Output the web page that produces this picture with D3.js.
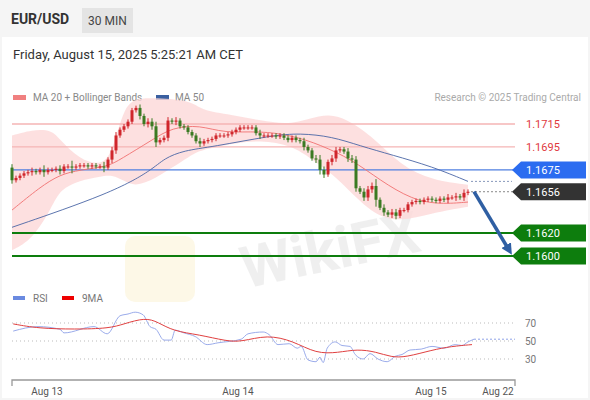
<!DOCTYPE html>
<html><head><meta charset="utf-8">
<script src="https://cdn.jsdelivr.net/npm/d3@7"></script>
<style>
body{margin:0;background:#fff;font-family:Roboto,"Liberation Sans",Arial,sans-serif;}
</style></head>
<body><svg id="chart" width="590" height="400"></svg>
<script>
// 30 min closes, EUR/USD
const firstOpen = 1.1677;
const closes = [
  1.1666,1.1668,1.1670,1.1672,1.1673,1.1674,1.1673,1.1675,1.1673,1.1675,
  1.1675,1.1676,1.1674,1.1678,1.1678,1.1677,1.1678,1.1679,1.1679,1.1678,
  1.1679,1.1678,1.1678,1.1677,1.1684,1.1692,1.1705,1.1710,1.1713,1.1717,
  1.1727,1.1729,1.1722,1.1715,1.1717,1.1713,1.1699,1.1701,1.1703,1.1718,
  1.1717,1.1718,1.1713,1.1712,1.1708,1.1705,1.1700,1.1698,1.1700,1.1701,
  1.1702,1.1705,1.1705,1.1705,1.1706,1.1708,1.1710,1.1712,1.1712,1.1712,
  1.1712,1.1707,1.1705,1.1705,1.1705,1.1705,1.1704,1.1705,1.1703,1.1701,
  1.1703,1.1701,1.1700,1.1695,1.1692,1.1685,1.1684,1.1675,1.1671,1.1682,
  1.1685,1.1692,1.1693,1.1691,1.1685,1.1684,1.1659,1.1656,1.1651,1.1658,
  1.1661,1.1649,1.1642,1.1638,1.1636,1.1638,1.1635,1.1640,1.1640,1.1645,
  1.1647,1.1648,1.1647,1.1649,1.1650,1.1649,1.1648,1.1650,1.1649,1.1651,
  1.1651,1.1652,1.1651,1.1655,1.1656
];
// wick length in pips beyond the body
const wicks = [
  3,2,2,2,2,3,2,2,4,2, 2,2,3,2,2,5,2,2,2,2, 2,2,2,4,2,3,3,2,2,2,
  2,2,3,2,3,3,4,2,2,3, 2,3,2,2,2,2,2,3,2,2, 2,2,2,2,2,2,2,2,2,2,
  2,2,3,2,2,2,2,2,2,2, 2,2,2,3,2,2,3,4,3,2, 3,3,2,2,3,3,3,2,3,3,
  3,6,2,3,2,3,3,2,2,2, 2,2,2,2,2,2,2,2,2,3, 2,3,2,3,2
];
const ma50 = [[0,1.1625],[25,1.1655],[35,1.1675],[38,1.1685],[43,1.1692],[50,1.1695],[65,1.1705],[72,1.1707],[80,1.1704],[87,1.1696],[95,1.1688],[105,1.1678],[114,1.1665]];
const ma20 = [[0,1.1640],[7,1.1660],[12,1.1671],[17,1.1675],[24,1.1678],[27,1.1684],[35,1.1701],[40,1.1712],[47,1.1714],[53,1.1707],[62,1.1709],[70,1.1705],[77,1.1697],[85,1.1684],[92,1.1666],[100,1.1649],[107,1.1645],[114,1.1647]];
const bandUpper = [[0,1.1705],[5,1.1710],[10,1.1710],[12,1.1701],[17,1.1684],[22,1.1679],[25,1.1688],[28,1.1732],[32,1.1739],[45,1.1736],[47,1.1727],[55,1.1723],[62,1.1718],[70,1.1714],[77,1.1723],[82,1.1723],[90,1.1705],[97,1.1679],[105,1.1666],[114,1.1662]];
const bandLower = [[0,1.1605],[5,1.1614],[8,1.1627],[12,1.1658],[17,1.1666],[25,1.1671],[30,1.1662],[32,1.1658],[37,1.1675],[47,1.1692],[55,1.1698],[62,1.1701],[70,1.1697],[77,1.1679],[82,1.1666],[90,1.1636],[95,1.1627],[102,1.1636],[110,1.1640],[114,1.1643]];
const rsi = [[0.3,61],[6.5,66],[12,63],[13,59],[20.5,66],[23.8,58],[27,78],[29,80],[30.8,82],[32.8,79],[34.5,66],[36,63],[38,51],[39.8,51],[40.8,62],[43,59],[45.8,55],[48.8,46],[51.5,48],[57.3,52],[59,58],[62.8,60],[64.3,57],[66.5,46],[69.3,47],[71.3,42],[72.3,44],[74,29],[76,27],[77,32],[77.8,26],[78.8,42],[80.8,49],[82.5,45],[84.5,44],[85.8,35],[87.8,30],[89.5,36],[91.5,30],[93.8,27],[95.8,33],[97.5,35],[99.5,40],[102.3,41],[105,44],[108,42],[110.8,46],[112.5,45],[114,49],[115.5,52]];
const rsiMa = [[0.3,69],[6.5,64],[15.8,63],[24.3,64],[28,69],[33.3,76],[36.5,71],[40.3,61],[46.8,57],[53.5,50],[57.3,49],[63.8,57],[70.3,50],[76,36],[81.5,37],[86.3,41],[91,38],[94.8,32],[98.5,32],[105,40],[109.8,44],[115,46]];
const levels = [
  {v:1.1715, kind:"text", color:"#e0393e", line:"#f5b5b5"},
  {v:1.1695, kind:"text", color:"#e0393e", line:"#f5b5b5"},
  {v:1.1675, kind:"tag", color:"#2b6cf0", line:"#4f7fe0"},
  {v:1.1620, kind:"tag", color:"#0d7d0d", line:"#0d7d0d"},
  {v:1.1600, kind:"tag", color:"#0d7d0d", line:"#0d7d0d"}
];
const lastPrice = 1.1656;
const rsiTicks = [70, 50, 30];
const dateTicks = [[8.75,"Aug 13"],[56.5,"Aug 14"],[104.75,"Aug 15"],[121.5,"Aug 22"]];

const svg = d3.select("#chart");
const x = d3.scaleLinear().domain([0, 114]).range([12, 468]);
const y = d3.scaleLinear().domain([1.1600, 1.1715]).range([256, 124]);
const yr = d3.scaleLinear().domain([30, 70]).range([359, 323]);

// header
svg.append("rect").attr("width", 590).attr("height", 400).attr("fill", "#f5f5f5");
svg.append("rect").attr("x", 2).attr("y", 37).attr("width", 586).attr("height", 361).attr("fill", "#fff");
svg.append("text").attr("x", 11).attr("y", 24).attr("font-size", 14).attr("font-weight", "bold").attr("fill", "#333").text("EUR/USD");
svg.append("rect").attr("x", 82).attr("y", 8).attr("width", 51).attr("height", 25).attr("fill", "#e4e4e4");
svg.append("text").attr("x", 107.5).attr("y", 25).attr("text-anchor", "middle").attr("font-size", 12).attr("fill", "#444").text("30 MIN");
svg.append("text").attr("x", 13).attr("y", 59).attr("font-size", 13).attr("fill", "#333").text("Friday, August 15, 2025 5:25:21 AM CET");

// legend
svg.append("rect").attr("x", 13).attr("y", 95).attr("width", 13).attr("height", 5).attr("fill", "#f08080");
svg.append("text").attr("x", 33).attr("y", 101).attr("font-size", 10).attr("fill", "#888").text("MA 20 + Bollinger Bands");
svg.append("rect").attr("x", 156).attr("y", 95).attr("width", 13).attr("height", 5).attr("fill", "#3a5fa0");
svg.append("text").attr("x", 175).attr("y", 101).attr("font-size", 10).attr("fill", "#888").text("MA 50");
svg.append("text").attr("x", 581).attr("y", 101).attr("text-anchor", "end").attr("font-size", 10).attr("fill", "#aaa").text("Research \u00a9 2025 Trading Central");

// watermark
svg.append("text").attr("x", 330).attr("y", 270).attr("text-anchor", "middle").attr("font-size", 58).attr("font-weight", "bold")
  .attr("fill", "#000").attr("opacity", 0.06).attr("transform", "rotate(-12,330,250)").text("WikiFX");
svg.append("rect").attr("x", 125).attr("y", 236).attr("width", 70).attr("height", 66).attr("rx", 10).attr("fill", "#f0d060").attr("opacity", 0.15);

// bollinger band area
const lowerAt = d3.scaleLinear().domain(bandLower.map(b => b[0])).range(bandLower.map(b => b[1]));
const bandData = bandUpper.map(d => ({i: d[0], hi: d[1], lo: lowerAt(d[0])}));
svg.append("path").datum(bandData)
  .attr("d", d3.area().x(d => x(d.i)).y0(d => y(d.lo)).y1(d => y(d.hi)).curve(d3.curveBasis))
  .attr("fill", "#fcd8d8").attr("opacity", 0.8);

// levels
levels.forEach(l => {
  const yy = y(l.v);
  const thick = l.color === "#0d7d0d";
  svg.append("line").attr("x1", 12).attr("x2", thick ? 586 : 515).attr("y1", yy).attr("y2", yy)
    .attr("stroke", l.line).attr("stroke-width", thick ? 2 : 1.3);
  if (l.kind === "text") {
    svg.append("text").attr("x", 526).attr("y", yy + 4).attr("font-size", 11).attr("fill", l.color).text(l.v.toFixed(4));
  }
});

function tag(v, color) {
  const yy = y(v);
  svg.append("path").attr("d", `M512,${yy} L521,${yy - 8.5} L586,${yy - 8.5} L586,${yy + 8.5} L521,${yy + 8.5} Z`).attr("fill", color);
  svg.append("text").attr("x", 526).attr("y", yy + 4).attr("font-size", 11).attr("fill", "#fff").text(v.toFixed(4));
}
levels.filter(l => l.kind === "tag").forEach(l => tag(l.v, l.color));
tag(lastPrice, "#333");

// dotted leaders
svg.append("line").attr("x1", x(114) + 3).attr("x2", 512).attr("y1", y(ma50[ma50.length - 1][1])).attr("y2", y(ma50[ma50.length - 1][1]))
  .attr("stroke", "#8899bb").attr("stroke-dasharray", "2,2");
svg.append("line").attr("x1", x(114) + 3).attr("x2", 512).attr("y1", y(lastPrice)).attr("y2", y(lastPrice))
  .attr("stroke", "#888").attr("stroke-dasharray", "2,2");

// moving averages
const ln = d3.line().x(d => x(d[0])).y(d => y(d[1])).curve(d3.curveBasis);
svg.append("path").datum(ma20).attr("d", ln).attr("fill", "none").attr("stroke", "#f07070").attr("stroke-width", 0.9);
svg.append("path").datum(ma50).attr("d", ln).attr("fill", "none").attr("stroke", "#4a65a5").attr("stroke-width", 0.9);

// candles
const candles = closes.map((c, i) => {
  const o = i === 0 ? firstOpen : closes[i - 1];
  const w = wicks[i] * 0.0001;
  return {i, o, c, h: Math.max(o, c) + w, l: Math.min(o, c) - w};
});
const g = svg.append("g");
candles.forEach(d => {
  const col = d.c >= d.o ? "#d0262c" : "#3b7a22";
  g.append("line").attr("x1", x(d.i)).attr("x2", x(d.i)).attr("y1", y(d.h)).attr("y2", y(d.l)).attr("stroke", col).attr("stroke-width", 1);
  const top = y(Math.max(d.o, d.c)), bot = y(Math.min(d.o, d.c));
  g.append("rect").attr("x", x(d.i) - 1.5).attr("y", top).attr("width", 3).attr("height", Math.max(1, bot - top)).attr("fill", col);
});

// forecast arrow
svg.append("defs").append("marker").attr("id", "ah").attr("viewBox", "0 0 10 10").attr("refX", 5).attr("refY", 5)
  .attr("markerWidth", 3.2).attr("markerHeight", 3.2).attr("orient", "auto")
  .append("path").attr("d", "M0,0 L10,5 L0,10 Z").attr("fill", "#2f5fa3");
svg.append("line").attr("x1", x(114) + 6).attr("y1", y(lastPrice)).attr("x2", 509).attr("y2", 250)
  .attr("stroke", "#2f5fa3").attr("stroke-width", 3.5).attr("marker-end", "url(#ah)");

// RSI panel
svg.append("rect").attr("x", 13).attr("y", 296).attr("width", 12).attr("height", 4).attr("fill", "#6a8ae0");
svg.append("text").attr("x", 33).attr("y", 302).attr("font-size", 10).attr("fill", "#777").text("RSI");
svg.append("rect").attr("x", 62).attr("y", 296).attr("width", 12).attr("height", 4).attr("fill", "#e00");
svg.append("text").attr("x", 82).attr("y", 302).attr("font-size", 10).attr("fill", "#777").text("9MA");
rsiTicks.forEach(t => {
  svg.append("line").attr("x1", 12).attr("x2", 515).attr("y1", yr(t)).attr("y2", yr(t)).attr("stroke", "#bbb").attr("stroke-dasharray", "1,3");
  svg.append("text").attr("x", 525).attr("y", yr(t) + 4).attr("font-size", 10).attr("fill", "#777").text(t);
});
const lr = d3.line().x(d => x(d[0])).y(d => yr(d[1])).curve(d3.curveMonotoneX);
svg.append("path").datum(rsi).attr("d", lr).attr("fill", "none").attr("stroke", "#8ea2e8").attr("stroke-width", 0.9);
svg.append("path").datum(rsiMa).attr("d", d3.line().x(d => x(d[0])).y(d => yr(d[1])).curve(d3.curveBasis))
  .attr("fill", "none").attr("stroke", "#e04040").attr("stroke-width", 1);
const lastR = rsi[rsi.length - 1];
svg.append("line").attr("x1", x(lastR[0])).attr("x2", 515).attr("y1", yr(lastR[1])).attr("y2", yr(lastR[1])).attr("stroke", "#8ea2e8").attr("stroke-dasharray", "2,2");

// date axis
svg.append("path").attr("d", "M12,386 L12,380 L515,380 L515,386").attr("fill", "none").attr("stroke", "#999").attr("stroke-width", 1.3);
dateTicks.forEach(([i, lab]) => {
  svg.append("text").attr("x", x(i)).attr("y", 395).attr("text-anchor", "middle").attr("font-size", 10).attr("fill", "#555").text(lab);
});
</script></body></html>
